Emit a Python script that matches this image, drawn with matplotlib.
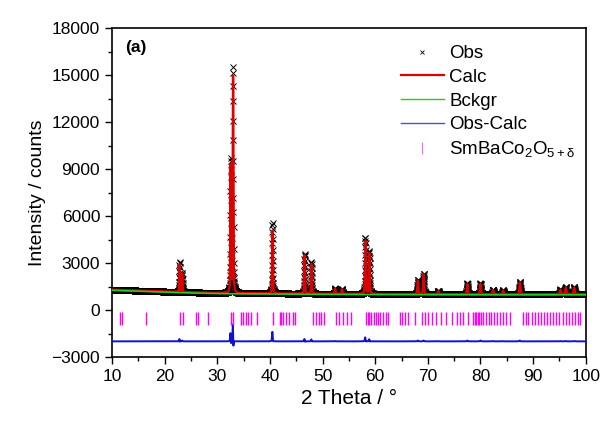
import numpy as np
import matplotlib
matplotlib.use("Agg")
import matplotlib.pyplot as plt
from matplotlib.lines import Line2D

plt.rcParams['font.family'] = ['Liberation Sans', 'DejaVu Sans']
plt.rcParams['mathtext.fontset'] = 'custom'
plt.rcParams['mathtext.rm'] = 'Liberation Sans'

# Bragg peaks: position, obs and calc height above background
peak_pos = [22.85, 23.35, 32.55, 33.0, 40.5, 46.6, 47.9, 52.4, 53.7,
            58.15, 58.9, 68.1, 69.2, 72.0, 77.5, 80.0, 82.4, 84.3, 87.5,
            95.2, 96.2, 97.8]
peak_obs = [1900, 1250, 8500, 14400, 4500, 2550, 2000, 350, 300,
            3600, 2700, 900, 1300, 200, 700, 700, 300, 250, 800,
            300, 450, 450]
peak_calc = [1800, 1200, 8200, 13800, 4000, 2450, 1900, 330, 290,
             3400, 2600, 850, 1250, 190, 650, 650, 280, 240, 750,
             280, 430, 430]
peak_shift = [0.004, 0.0, 0.004, 0.005, 0.006, 0.004, 0.003, 0.0, 0.0,
              0.004, 0.003, 0.0, 0.0, 0.0, 0.0, 0.0, 0.0, 0.0, 0.003,
              0.0, 0.0, 0.0]

# background knots
bkg_x = [10, 15, 20, 25, 30, 40, 50, 60, 70, 80, 90, 100]
bkg_y = [1300, 1240, 1180, 1130, 1090, 1060, 1040, 1025, 1015, 1010, 1010, 1010]

# reflection positions of SmBaCo2O5+d
hkl_pos = [11.5, 11.9, 16.45, 22.9, 23.5, 25.9, 26.4, 28.3, 32.6, 33.0,
           34.6, 34.9, 35.4, 35.9, 36.5, 37.5, 40.6, 41.9, 42.2, 42.5,
           43.1, 43.7, 44.4, 44.7, 48.2, 48.7, 49.3, 49.8, 50.2, 52.6,
           53.2, 53.8, 54.6, 55.5, 58.3, 58.6, 58.9, 59.3, 59.7, 60.1,
           60.6, 61.0, 61.5, 62.0, 62.5, 64.7, 65.1, 65.6, 66.3, 67.5,
           68.8, 69.4, 70.1, 70.8, 71.6, 72.5, 73.5, 74.5, 75.5, 76.1,
           76.7, 77.7, 78.6, 78.9, 79.2, 79.5, 79.8, 80.1, 80.5, 81.1,
           81.6, 82.0, 82.6, 83.1, 83.7, 84.3, 84.9, 85.6, 88.1, 88.6,
           89.1, 89.7, 90.3, 90.9, 91.5, 92.0, 92.6, 93.2, 93.8, 94.4,
           95.0, 95.6, 96.2, 96.8, 97.4, 98.0, 98.5, 98.9]

x = np.arange(10, 100.001, 0.02)
bkg = np.interp(x, bkg_x, bkg_y)


def pseudo_voigt(x, x0, h, w):
    g = np.exp(-4 * np.log(2) * ((x - x0) / w) ** 2)
    l = 1 / (1 + 4 * ((x - x0) / w) ** 2)
    return h * (0.6 * g + 0.4 * l)


calc = bkg.copy()
obs = bkg.copy()
for p, ho, hc, s in zip(peak_pos, peak_obs, peak_calc, peak_shift):
    w = 0.13 + 0.0015 * (p - 20)
    calc += pseudo_voigt(x, p, hc, w)
    obs += pseudo_voigt(x, p - s, ho, w)
diff = obs - calc - 2000

fig = plt.figure(figsize=(6.02, 4.21), dpi=100)
ax = fig.add_axes([0.186, 0.152, 0.787, 0.781])

ax.plot(x, obs, 'x', color='black', ms=4, mew=0.7, zorder=2)
ax.plot(x, calc, color='#e00000', lw=1.7, zorder=3)
ax.plot(x, bkg - 40, color='#22cc22', lw=1.2, zorder=4)
ax.plot(x, diff, color='#1010d0', lw=1.4, zorder=3)
ax.vlines(hkl_pos, -950, -150, color='#ff00ff', lw=1.0, zorder=3)

ax.set_xlim(10, 100)
ax.set_ylim(-3000, 18000)
ax.set_xticks(np.arange(10, 101, 10))
ax.set_xticks(np.arange(15, 100, 10), minor=True)
ax.set_yticks(np.arange(-3000, 18001, 3000))
ax.set_yticks(np.arange(-1500, 18000, 3000), minor=True)
ax.tick_params(which='major', direction='out', length=5, width=1, labelsize=12.5)
ax.tick_params(which='minor', direction='out', length=3, width=1)
for sp in ax.spines.values():
    sp.set_linewidth(1.2)

ax.set_xlabel('2 Theta / \u00b0', fontsize=15)
ax.set_ylabel('Intensity / counts', fontsize=14)
ax.text(0.028, 0.94, '(a)', transform=ax.transAxes, fontsize=12.5,
        fontweight='bold', va='center')

handles = [
    Line2D([], [], ls='none', marker='x', color='black', ms=3, mew=0.6),
    Line2D([], [], color='#e00000', lw=1.6),
    Line2D([], [], color='#22cc22', lw=1.0),
    Line2D([], [], color='#5050c0', lw=1.0),
    Line2D([], [], ls='none', marker='|', color='#ff66ff',
           markeredgecolor='#ff66ff', ms=9, mew=0.8),
]
labels = ['Obs', 'Calc', 'Bckgr', 'Obs-Calc', 'SmBaCo$_\\mathregular{2}$O$_\\mathregular{5+\u03b4}$']
ax.legend(handles, labels, loc='upper right', frameon=False, fontsize=13.5,
          handlelength=2.3, labelspacing=0.35, handletextpad=0.3,
          bbox_to_anchor=(1.015, 1.0))

fig.savefig('out.png', dpi=100)
